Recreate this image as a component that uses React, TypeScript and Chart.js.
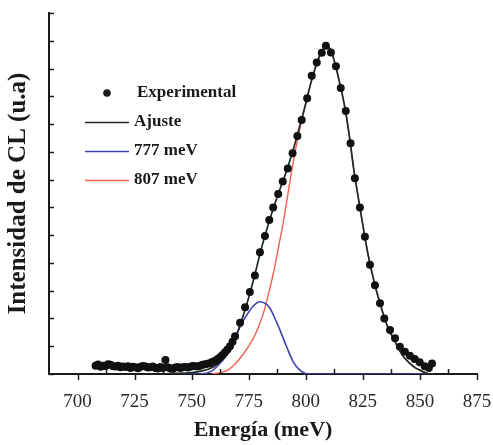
import React, { useEffect, useRef } from "react";
import { Chart, registerables } from "chart.js";

Chart.register(...registerables);

// ---- axis ticks ----
const xTickValues = [700, 725, 750, 775, 800, 825, 850, 875];
const xMinorTickValues = [712.5, 737.5, 762.5, 787.5, 812.5, 837.5, 862.5];
const yTickValues = [0, 1, 2, 3, 4, 5, 6, 7, 8, 9, 10, 11, 12, 13];

// ---- experimental points (meV, arb. units) ----
const expEnergy = [
  707.9, 709.0, 710.1, 711.2, 712.3, 713.4, 714.5, 715.6, 716.7, 717.8,
  718.8, 719.9, 721.0, 722.1, 723.2, 724.3, 725.4, 726.5, 727.6, 728.7,
  729.7, 730.8, 731.9, 733.0, 734.1, 735.2, 736.3, 737.4, 738.5, 739.5,
  740.6, 741.7, 742.8, 743.9, 745.0, 746.1, 747.2, 748.3, 749.4, 750.5,
  751.5, 752.6, 753.7, 754.8, 755.9, 757.0, 758.1, 759.2, 760.3, 761.4,
  762.4, 763.5, 764.6, 765.7, 766.8, 767.9, 769.0, 771.2, 773.4, 775.5,
  777.7, 779.9, 782.1, 784.0, 785.7, 787.9, 789.9, 792.1, 794.2, 796.3,
  798.2, 800.6, 802.6, 804.8, 807.0, 808.8, 811.0, 813.2, 815.3, 817.5,
  819.6, 821.5, 823.7, 825.9, 828.1, 830.3, 832.5, 834.4, 836.9, 839.1,
  841.2, 843.4, 845.6, 847.7, 849.9, 852.1, 853.9, 855.3,
];
const expIntensity = [
  0.30, 0.34, 0.26, 0.30, 0.29, 0.35, 0.33, 0.28, 0.27, 0.30,
  0.24, 0.27, 0.25, 0.28, 0.22, 0.26, 0.24, 0.21, 0.26, 0.29,
  0.27, 0.23, 0.24, 0.27, 0.22, 0.20, 0.25, 0.22, 0.50, 0.24,
  0.21, 0.19, 0.23, 0.25, 0.22, 0.24, 0.25, 0.23, 0.26, 0.29,
  0.28, 0.27, 0.30, 0.33, 0.35, 0.37, 0.40, 0.44, 0.48, 0.54,
  0.60, 0.68, 0.78, 0.88, 1.00, 1.16, 1.36, 1.85, 2.40, 2.95,
  3.55, 4.38, 4.97, 5.55, 6.00, 6.48, 6.93, 7.40, 7.95, 8.57,
  9.15, 9.93, 10.74, 11.22, 11.57, 11.82, 11.58, 11.08, 10.30, 9.47,
  8.31, 7.05, 6.00, 4.94, 3.93, 3.20, 2.55, 2.00, 1.58, 1.29,
  0.98, 0.80, 0.66, 0.54, 0.42, 0.28, 0.22, 0.38,
];

// ---- total fit (Ajuste) ----
const fitEnergy = [
  740, 750, 755, 758, 760, 762, 764, 766, 768, 770,
  772, 774, 776, 778, 780, 782, 784, 786, 788, 790,
  792, 794, 796, 798, 800, 802, 804, 806, 808, 809.5,
  811, 813, 815, 817, 819, 821, 823, 825, 827, 829,
  831, 833, 835, 837, 839, 841, 843, 845.6, 848, 850,
  852, 854.4, 856,
];
const fitIntensity = [
  0.02, 0.05, 0.12, 0.2, 0.28, 0.4, 0.56, 0.78, 1.08, 1.48,
  1.95, 2.48, 3.05, 3.68, 4.35, 4.95, 5.5, 6.02, 6.5, 6.95,
  7.42, 7.95, 8.52, 9.12, 9.75, 10.42, 10.98, 11.45, 11.75, 11.8,
  11.65, 11.12, 10.42, 9.65, 8.62, 7.38, 6.35, 5.35, 4.42, 3.65,
  2.98, 2.42, 1.88, 1.5, 1.18, 0.86, 0.6, 0.38, 0.22, 0.14,
  0.06, 0.0, 0.0,
];

// ---- component 777 meV ----
const comp777Energy = [
  745, 752, 756.5, 759, 761, 763, 765.3, 768.2, 771.2, 774.1,
  777, 780, 782, 784.3, 786.5, 788.7, 791.6, 794.5, 797.4, 800.4,
  804, 856,
];
const comp777Intensity = [
  0, 0, 0.03, 0.12, 0.26, 0.44, 0.68, 1.16, 1.7, 2.12,
  2.45, 2.6, 2.55, 2.37, 2.0, 1.58, 0.98, 0.44, 0.14, 0.01,
  0, 0,
];

// ---- component 807 meV ----
const comp807Energy = [
  759, 763, 766, 769, 772, 775, 778, 780, 782, 784,
  786, 788, 790, 792, 794, 796, 798, 800, 802, 804,
  806, 808, 809.5, 811, 813, 815, 817, 819, 821, 823,
  825, 827, 829, 831, 833, 835, 837, 839, 841, 843,
  845.6, 848, 850, 852, 854.4, 856,
];
const comp807Intensity = [
  0, 0.06, 0.15, 0.36, 0.65, 1.0, 1.45, 1.85, 2.35, 3.0,
  3.7, 4.55, 5.4, 6.4, 7.4, 8.3, 9.05, 9.72, 10.4, 10.97,
  11.44, 11.74, 11.8, 11.65, 11.12, 10.42, 9.65, 8.62, 7.38, 6.35,
  5.35, 4.42, 3.65, 2.98, 2.42, 1.88, 1.5, 1.18, 0.86, 0.6,
  0.38, 0.22, 0.14, 0.06, 0, 0,
];

const legendLabels = ["Experimental", "Ajuste", "777 meV", "807 meV"];

const SERIF = '"Liberation Serif", "Times New Roman", Times, serif';
const AXIS_COLOR = "#1b1b1b";
const FIT_COLOR = "#1e2a2a";
const BLUE = "#4040b0";
const RED = "#f0604c";

const toPoints = (xs: number[], ys: number[]) => xs.map((x, i) => ({ x, y: ys[i] }));

const ticksAndLegend = {
  id: "ticksAndLegend",
  afterDraw(chart: any) {
    const { ctx, chartArea, scales } = chart;
    const x = scales.x;
    const y = scales.y;
    ctx.save();
    ctx.strokeStyle = AXIS_COLOR;
    ctx.lineWidth = 1.5;
    ctx.beginPath();
    for (const v of xTickValues) {
      const px = Math.round(x.getPixelForValue(v)) + 0.5;
      ctx.moveTo(px, chartArea.bottom);
      ctx.lineTo(px, chartArea.bottom + 6);
    }
    for (const v of xMinorTickValues) {
      const px = Math.round(x.getPixelForValue(v)) + 0.5;
      ctx.moveTo(px, chartArea.bottom);
      ctx.lineTo(px, chartArea.bottom - 5);
    }
    for (const v of yTickValues) {
      const py = Math.round(y.getPixelForValue(v)) + 0.5;
      ctx.moveTo(chartArea.left, py);
      ctx.lineTo(chartArea.left + 5, py);
    }
    ctx.stroke();

    // legend
    const textX = 134;
    const rows = [93, 122, 151, 180];
    ctx.font = `bold 17px ${SERIF}`;
    ctx.fillStyle = "#1a1a1a";
    ctx.textBaseline = "middle";
    ctx.textAlign = "left";
    ctx.beginPath();
    ctx.arc(107, rows[0], 3.8, 0, Math.PI * 2);
    ctx.fill();
    ctx.fillText(legendLabels[0], 137, rows[0]);
    const lineColors = [FIT_COLOR, BLUE, RED];
    for (let i = 1; i < 4; i++) {
      ctx.strokeStyle = lineColors[i - 1];
      ctx.lineWidth = 1.6;
      ctx.beginPath();
      ctx.moveTo(85, rows[i] + 0.5);
      ctx.lineTo(129, rows[i] + 0.5);
      ctx.stroke();
      ctx.fillStyle = "#1a1a1a";
      ctx.fillText(legendLabels[i], textX, rows[i]);
    }
    ctx.restore();
  },
};

export default function App() {
  const canvasRef = useRef<HTMLCanvasElement>(null);

  useEffect(() => {
    if (!canvasRef.current) return;
    const chart = new Chart(canvasRef.current, {
      type: "scatter",
      data: {
        datasets: [
          {
            label: legendLabels[0],
            data: toPoints(expEnergy, expIntensity),
            showLine: false,
            pointRadius: 4,
            pointBackgroundColor: "#111",
            pointBorderColor: "#111",
            pointBorderWidth: 0,
            order: 0,
          },
          {
            label: legendLabels[1],
            data: toPoints(fitEnergy, fitIntensity),
            showLine: true,
            pointRadius: 0,
            borderColor: FIT_COLOR,
            borderWidth: 1.7,
            cubicInterpolationMode: "monotone",
            order: 1,
          },
          {
            label: legendLabels[2],
            data: toPoints(comp777Energy, comp777Intensity),
            showLine: true,
            pointRadius: 0,
            borderColor: BLUE,
            borderWidth: 1.6,
            cubicInterpolationMode: "monotone",
            order: 2,
          },
          {
            label: legendLabels[3],
            data: toPoints(comp807Energy, comp807Intensity),
            showLine: true,
            pointRadius: 0,
            borderColor: RED,
            borderWidth: 1.4,
            cubicInterpolationMode: "monotone",
            order: 3,
          },
        ] as any,
      },
      options: {
        animation: false,
        responsive: true,
        maintainAspectRatio: false,
        layout: { padding: { top: 13, right: 16, left: 0, bottom: 0 } },
        plugins: {
          legend: { display: false },
          tooltip: { enabled: false },
        },
        scales: {
          x: {
            type: "linear",
            min: 687.5,
            max: 875,
            afterBuildTicks: (s: any) => {
              s.ticks = xTickValues.map((v) => ({ value: v }));
            },
            afterFit: (s: any) => {
              s.height = 71;
              s.paddingLeft = 0;
              s.paddingRight = 0;
            },
            grid: { display: false },
            border: { display: true, color: AXIS_COLOR, width: 2 },
            ticks: {
              autoSkip: false,
              maxRotation: 0,
              padding: 9,
              color: "#2a2a2a",
              font: { family: SERIF, size: 19 },
            },
            title: {
              display: true,
              text: "Energía (meV)",
              color: "#1a1a1a",
              font: { family: SERIF, size: 22, weight: "bold" },
              padding: { top: 0, bottom: 1 },
            },
          },
          y: {
            type: "linear",
            min: 0,
            max: 13,
            afterFit: (s: any) => {
              s.width = 49;
              s.paddingTop = 0;
              s.paddingBottom = 0;
            },
            grid: { display: false },
            border: { display: true, color: AXIS_COLOR, width: 2 },
            ticks: { display: false, stepSize: 1 },
            title: {
              display: true,
              text: "Intensidad de CL (u.a)",
              color: "#1a1a1a",
              font: { family: SERIF, size: 25, weight: "bold" },
              padding: { top: 4, bottom: 0 },
            },
          },
        },
      } as any,
      plugins: [ticksAndLegend],
    });
    return () => chart.destroy();
  }, []);

  return (
    <div
      style={{
        position: "fixed",
        left: 0,
        top: 0,
        width: 493,
        height: 445,
        background: "#fff",
      }}
    >
      <canvas ref={canvasRef} />
    </div>
  );
}
